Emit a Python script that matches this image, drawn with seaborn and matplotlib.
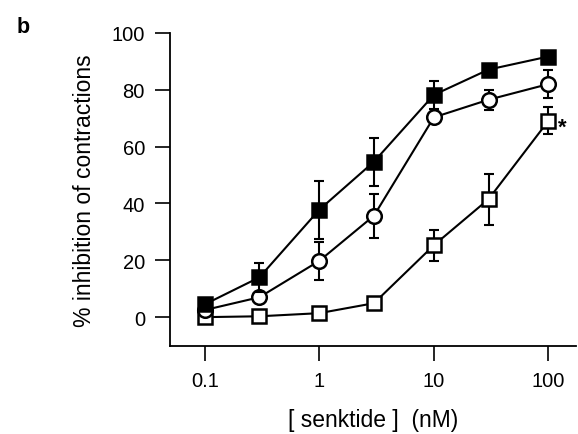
import numpy as np
import matplotlib
matplotlib.use("Agg")
import matplotlib.pyplot as plt
import seaborn as sns

# senktide concentrations (nM)
conc = [0.1, 0.3, 1, 3, 10, 30, 100]

# filled squares
filled_sq = [4.5, 14.0, 37.8, 54.7, 78.2, 87.1, 91.7]
filled_sq_err = [1.0, 5.0, 10.2, 8.5, 5.0, 1.5, 1.5]

# open circles
open_circ = [2.5, 7.0, 19.8, 35.7, 70.3, 76.5, 82.0]
open_circ_err = [1.0, 1.5, 6.7, 7.7, 2.0, 3.5, 5.0]

# open squares
open_sq = [0.0, 0.3, 1.4, 4.9, 25.3, 41.5, 69.1]
open_sq_err = [0.5, 0.5, 2.0, 2.0, 5.5, 9.0, 4.7]

sns.set_style("ticks")
plt.rcParams["font.family"] = ["Liberation Sans", "DejaVu Sans"]
plt.rcParams["text.color"] = "black"
plt.rcParams["axes.labelcolor"] = "black"
plt.rcParams["xtick.color"] = "black"
plt.rcParams["ytick.color"] = "black"
plt.rcParams["axes.edgecolor"] = "black"

fig = plt.figure(figsize=(5.78, 4.35), dpi=100)
ax = fig.add_axes([0.294, 0.202, 0.703, 0.72])

series = [
    (open_sq, open_sq_err, "s", "white", 3),
    (open_circ, open_circ_err, "o", "white", 4),
    (filled_sq, filled_sq_err, "s", "black", 5),
]

for vals, err, mk, fc, z in series:
    ax.errorbar(conc, vals, yerr=err, fmt="none", ecolor="black",
                elinewidth=1.5, capsize=3.8, capthick=1.5, zorder=z)
    sns.lineplot(x=conc, y=vals, ax=ax, color="black", linewidth=1.5,
                 marker=mk, markersize=10.5, markerfacecolor=fc,
                 markeredgecolor="black", markeredgewidth=1.8, zorder=z)

ax.text(122, 67, "*", fontsize=16, fontweight="bold", ha="left", va="center")

ax.set_xscale("log")
ax.set_xlim(10 ** -1.304, 10 ** 2.243)
ax.set_ylim(-10.2, 100)
ax.set_xticks([0.1, 1, 10, 100])
ax.set_xticklabels(["0.1", "1", "10", "100"])
ax.minorticks_off()
ax.set_yticks([0, 20, 40, 60, 80, 100])

ax.spines["top"].set_visible(False)
ax.spines["right"].set_visible(False)
ax.spines["left"].set_bounds(-10.2, 100)
for s in ["left", "bottom"]:
    ax.spines[s].set_linewidth(1.3)
ax.tick_params(axis="both", length=11, width=1.2, labelsize=14.5, pad=7,
               direction="out")

ax.set_xlabel("[ senktide ]  (nM)", fontsize=16.5, labelpad=13)
ax.set_ylabel("% inhibition of contractions", fontsize=16.5, labelpad=11)

fig.text(0.028, 0.925, "b", fontsize=15.5, fontweight="bold")

fig.savefig("out.png", dpi=100)
